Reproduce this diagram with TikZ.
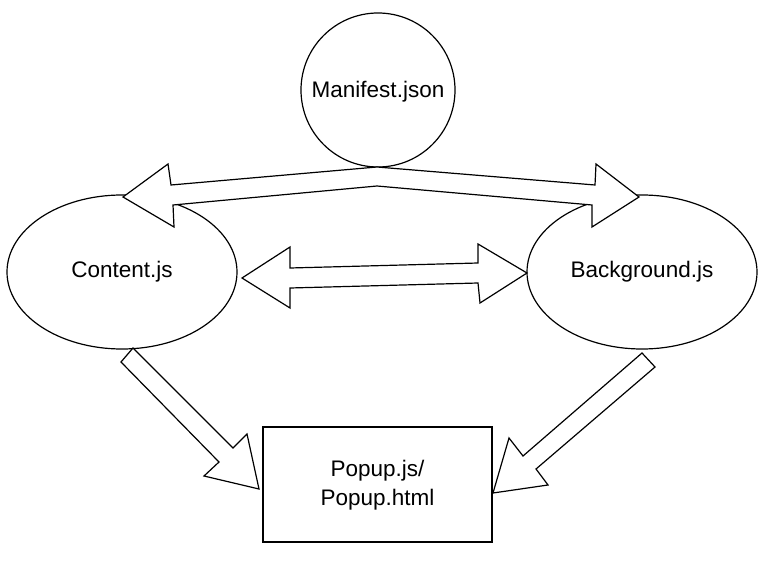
\documentclass[tikz,border=0pt]{standalone}
\usepackage{fontspec}
\setmainfont{Liberation Sans}
\usetikzlibrary{shapes.geometric}
\begin{document}
\begin{tikzpicture}[x=1pt,y=-1pt,line width=1.2pt,
  lbl/.style={font=\fontsize{22.5}{29}\selectfont,align=center},
  blk/.style={draw=black,fill=white,line join=miter,line width=1.2pt},
  shp/.style={draw=black,line width=1.2pt}]
\useasboundingbox (0,0) rectangle (768,572);
% nodes
\node[shp,circle,minimum size=154pt,inner sep=0pt] (manifest) at (378,90) {};
\node[lbl] (manifestlbl) at (378,92) {Manifest.json};
\node[shp,ellipse,minimum width=230pt,minimum height=154pt,inner sep=0pt] (content) at (122,272) {};
\node[lbl] (contentlbl) at (122,272) {Content.js};
\node[shp,ellipse,minimum width=230pt,minimum height=154pt,inner sep=0pt] (background) at (642,272) {};
\node[lbl] (backgroundlbl) at (642,272) {Background.js};
\node[shp,rectangle,minimum width=229pt,minimum height=115pt,inner sep=0pt] (popup) at (377.5,484.5) {};
\node[lbl] (popuplbl) at (377.5,485) {Popup.js/\\Popup.html};
% top bent double arrow (Manifest -> Content / Background)
\draw[blk] (123,197) -- (168,164) -- (171,185) -- (377,167) -- (595,185) -- (596,164)
  -- (639,197) -- (592,227) -- (592,205) -- (377,186) -- (173,205) -- (174,227) -- cycle;
% middle double arrow (Content <-> Background)
\draw[blk] (242,278) -- (290,247) -- (290,268) -- (478,263) -- (478,244) -- (527,273)
  -- (480,303) -- (478,283) -- (290,288) -- (290,308) -- cycle;
% Content -> Popup
\draw[blk] (133,348) -- (233,448) -- (247,434) -- (259,489) -- (204,476) -- (219,462) -- (121,362) -- cycle;
% Background -> Popup
\draw[blk] (642,353) -- (523,456) -- (509,438) -- (493,493) -- (548,485) -- (536,469) -- (655,367) -- cycle;
\end{tikzpicture}
\end{document}
